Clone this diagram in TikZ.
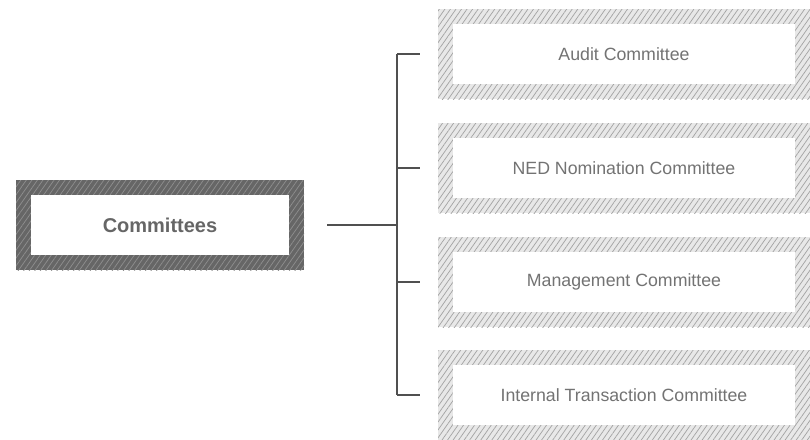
\documentclass[tikz,border=0pt]{standalone}
\usepackage{fontspec}
\setmainfont{Liberation Sans}
\usetikzlibrary{patterns.meta}
\definecolor{hatchlight}{HTML}{E8E8E8}
\definecolor{hatchlightline}{HTML}{A4A4A4}
\definecolor{hatchdark}{HTML}{666666}
\definecolor{hatchdarkline}{HTML}{8E8E8E}
\definecolor{textgray}{HTML}{737373}
\definecolor{linkgray}{HTML}{505050}
\tikzset{every node/.style={font=\fontsize{13.3}{16}\selectfont, text=textgray,
    inner sep=0pt, outer sep=0pt},
  hatch/.style={pattern={Lines[angle=55, distance=3.4pt, line width=0.55pt]}},
  % hatched frames
  lightframe/.style={minimum width=279pt, minimum height=67.5pt,
    preaction={fill=hatchlight}, hatch, pattern color=hatchlightline},
  darkframe/.style={minimum width=216pt, minimum height=67.5pt,
    preaction={fill=hatchdark}, hatch, pattern color=hatchdarkline},
  lightlabel/.style={fill=white, minimum width=256.5pt, minimum height=45pt},
  darklabel/.style={fill=white, minimum width=193.5pt, minimum height=45pt,
    font=\fontsize{15}{18}\selectfont\bfseries, text=hatchdark},
  link/.style={draw=linkgray, line width=0.8pt}}

\begin{document}
\begin{tikzpicture}[x=0.75pt,y=-0.75pt]
  \useasboundingbox (0,0) rectangle (810,439);
  % left box
  \node[darkframe] (com) at (160,225) {};
  \node[darklabel] (comtext) at (com) {Committees};
  % right boxes
  \node[lightframe] (audit) at (624,54) {};
  \node[lightlabel] (audittext) at (audit) {Audit Committee};
  \node[lightframe] (ned) at (624,168) {};
  \node[lightlabel] (nedtext) at (ned) {NED Nomination Committee};
  \node[lightframe] (mgmt) at (624,282) {};
  \node[lightlabel] (mgmttext) at (mgmt) {Management Committee};
  \node[lightframe] (internal) at (624,395) {};
  \node[lightlabel] (internaltext) at (internal) {Internal Transaction Committee};
  % connectors
  \coordinate (trunk) at (397,225);
  \draw[link, shorten <=17.25pt] (com.east) -- (trunk);
  \draw[link] (trunk |- audit.west) -- (trunk |- internal.west);
  \foreach \n in {audit,ned,mgmt,internal}
    \draw[link, shorten >=13.5pt] (trunk |- \n.west) -- (\n.west);
\end{tikzpicture}
\end{document}
